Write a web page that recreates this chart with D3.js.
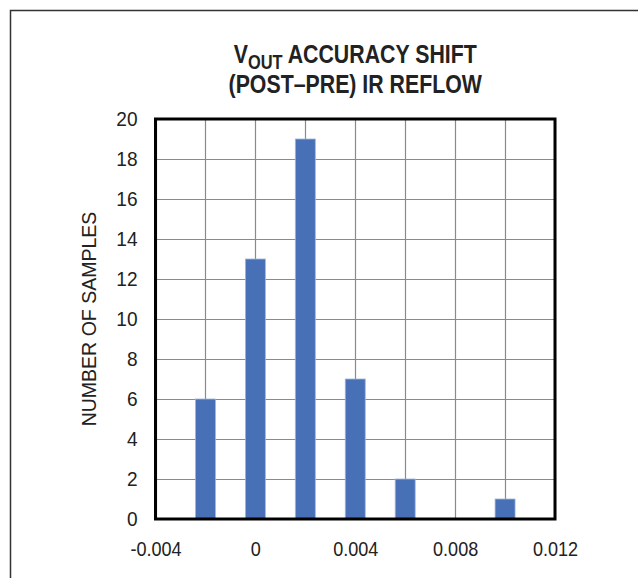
<!DOCTYPE html>
<html>
<head>
<meta charset="utf-8">
<script src="https://cdn.jsdelivr.net/npm/d3@7"></script>
<style>
  html, body { margin: 0; padding: 0; background: #fff; }
  svg { display: block; }
  text { font-family: "Liberation Sans", Arial, sans-serif; }
</style>
</head>
<body>
<svg id="chart" width="638" height="578"></svg>
<script>
// Histogram bins: centre of each bin and the count of samples in it
const binCenters = [-0.002, 0, 0.002, 0.004, 0.006, 0.008, 0.010];
const sampleCounts = [6, 13, 19, 7, 2, 0, 1];
const xTicks = [-0.004, 0, 0.004, 0.008, 0.012];
const xGrid = [-0.004, -0.002, 0, 0.002, 0.004, 0.006, 0.008, 0.010, 0.012];
const yTicks = [0, 2, 4, 6, 8, 10, 12, 14, 16, 18, 20];
const titleLine2 = "(POST\u2013PRE) IR REFLOW";
const yLabel = "NUMBER OF SAMPLES";

const svg = d3.select("#chart");
const plot = { left: 155.5, right: 555, top: 119, bottom: 519 };

const x = d3.scaleLinear().domain([-0.004, 0.012]).range([plot.left, plot.right]);
const y = d3.scaleLinear().domain([0, 20]).range([plot.bottom, plot.top]);

// Horizontally condense a text element around its anchor point (narrow type look)
function condense(sel, k, ax, ay) {
  sel.attr("transform", `translate(${ax},${ay}) scale(${k},1) translate(${-ax},${-ay})`);
}

// Outer frame (top and left edges)
svg.append("path")
  .attr("d", "M10.5,578 L10.5,10.5 L638,10.5")
  .attr("fill", "none")
  .attr("stroke", "#333")
  .attr("stroke-width", 1.5);

// Grid lines
const grid = svg.append("g").attr("stroke", "#8a8a8a").attr("stroke-width", 1.2);
grid.selectAll("line.v").data(xGrid).join("line")
  .attr("class", "v")
  .attr("x1", d => Math.round(x(d)) + 0.5).attr("x2", d => Math.round(x(d)) + 0.5)
  .attr("y1", plot.top).attr("y2", plot.bottom);
grid.selectAll("line.h").data(yTicks).join("line")
  .attr("class", "h")
  .attr("x1", plot.left).attr("x2", plot.right)
  .attr("y1", d => Math.round(y(d)) + 0.5).attr("y2", d => Math.round(y(d)) + 0.5);

// Bars
const barW = x(0.0008) - x(0);
svg.append("g").selectAll("rect").data(binCenters.map((c, i) => ({ c, n: sampleCounts[i] })).filter(d => d.n > 0))
  .join("rect")
  .attr("x", d => x(d.c) - barW / 2)
  .attr("y", d => y(d.n))
  .attr("width", barW)
  .attr("height", d => y(0) - y(d.n))
  .attr("fill", "#4870b7")
  .attr("stroke", "#9fb6de")
  .attr("stroke-width", 0.8);

// Plot border
svg.append("rect")
  .attr("x", plot.left).attr("y", plot.top)
  .attr("width", plot.right - plot.left).attr("height", plot.bottom - plot.top)
  .attr("fill", "none").attr("stroke", "#000").attr("stroke-width", 3);

// Y axis tick labels
const yAxis = d3.axisLeft(y).tickValues(yTicks).tickSize(0).tickPadding(18).tickFormat(d3.format("d"));
svg.append("g").attr("transform", `translate(${plot.left},0)`).call(yAxis)
  .call(g => g.select(".domain").remove())
  .selectAll("text")
  .attr("font-size", 20.5)
  .attr("fill", "#222")
  .each(function () { condense(d3.select(this), 0.93, -18, 0); });

// X axis tick labels (plain hyphen for negatives)
const xAxis = d3.axisBottom(x).tickValues(xTicks).tickSize(0).tickPadding(22)
  .tickFormat(d => d === 0 ? "0" : (d < 0 ? "-" : "") + Math.abs(d).toFixed(3));
svg.append("g").attr("transform", `translate(0,${plot.bottom})`).call(xAxis)
  .call(g => g.select(".domain").remove())
  .selectAll("text")
  .attr("font-size", 20.5)
  .attr("fill", "#222")
  .each(function () { condense(d3.select(this), 0.88, 0, 0); });

// Y axis title
svg.append("text")
  .attr("transform", `translate(96,${(plot.top + plot.bottom) / 2}) rotate(-90) scale(0.93,1)`)
  .attr("text-anchor", "middle")
  .attr("font-size", 21)
  .attr("fill", "#222")
  .text(yLabel);

// Chart title
const cx = (plot.left + plot.right) / 2;
const t1 = svg.append("text")
  .attr("x", cx).attr("y", 63)
  .attr("text-anchor", "middle")
  .attr("font-size", 26)
  .attr("font-weight", "bold")
  .attr("fill", "#222");
t1.append("tspan").text("V");
t1.append("tspan").attr("font-size", 20).attr("dy", 6).text("OUT");
t1.append("tspan").attr("dy", -6).text(" ACCURACY SHIFT");
condense(t1, 0.82, cx, 0);
const t2 = svg.append("text")
  .attr("x", cx).attr("y", 93.5)
  .attr("text-anchor", "middle")
  .attr("font-size", 26)
  .attr("font-weight", "bold")
  .attr("fill", "#222")
  .text(titleLine2);
condense(t2, 0.82, cx, 0);
</script>
</body>
</html>
